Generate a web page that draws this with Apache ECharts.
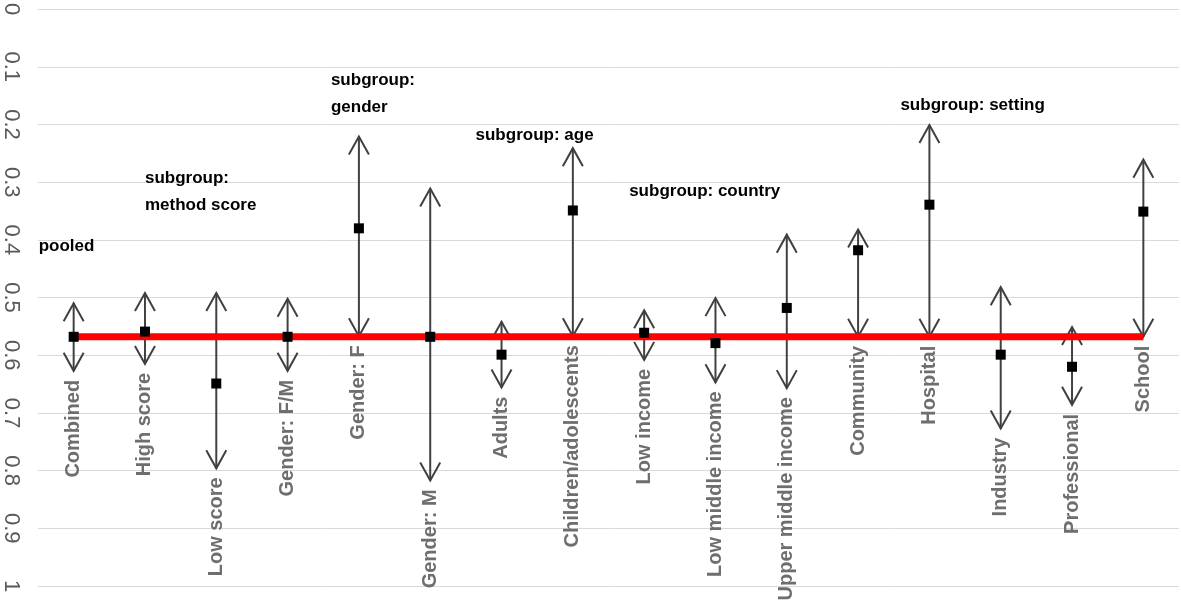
<!DOCTYPE html>
<html>
<head>
<meta charset="utf-8">
<script src="https://cdn.jsdelivr.net/npm/echarts@6/dist/echarts.min.js"></script>
<style>html,body{margin:0;padding:0;background:#fff}#c{width:1181px;height:609px}</style>
</head>
<body>
<div id="c"></div>
<script>
// ---- data ----
const categories = ['Combined','High score','Low score','Gender: F/M','Gender: F','Gender: M','Adults','Children/adolescents','Low income','Low middle income','Upper middle income','Community','Hospital','Industry','Professional','School'];
const estimates = [0.568,0.559,0.649,0.568,0.380,0.568,0.599,0.349,0.561,0.579,0.518,0.418,0.339,0.599,0.620,0.351];
const ciTop =     [0.510,0.492,0.492,0.502,0.221,0.311,0.542,0.241,0.522,0.501,0.391,0.382,0.201,0.482,0.551,0.261];
const ciBottom =  [0.627,0.615,0.796,0.627,0.567,0.817,0.656,0.567,0.608,0.647,0.657,0.568,0.568,0.727,0.686,0.568];
const pooled = 0.568;
const yTickLabels = ['0','0.1','0.2','0.3','0.4','0.5','0.6','0.7','0.8','0.9','1'];
const annoTexts = ['pooled','subgroup:\nmethod score','subgroup:\ngender','subgroup: age','subgroup: country','subgroup: setting'];
const annoCats = [0,1,4,6,8,12];
const annoValues = [0.411,0.316,0.147,0.218,0.316,0.166];

// ---- styles ----
const annoOffsetX = [-35,0,-28,-26,-15,-29];
const barColor = '#404040';

const chart = echarts.init(document.getElementById('c'), null, {renderer:'canvas'});
chart.setOption({
  animation: false,
  grid: {left: 38, right: 2, top: 7, bottom: 23, containLabel: false},
  xAxis: {
    type: 'category', data: categories, boundaryGap: true,
    axisLine: {show: false}, axisTick: {show: false}, axisLabel: {show: false}, splitLine: {show: false}
  },
  yAxis: {
    type: 'value', inverse: true, min: 0, max: 1, interval: 0.1,
    axisLine: {show: false}, axisTick: {show: false},
    splitLine: {lineStyle: {color: '#d9d9d9', width: 1}},
    axisLabel: {
      rotate: -90, margin: 16, color: '#595959', fontSize: 22, fontFamily: 'Liberation Sans',
      formatter: function (v) { return yTickLabels[Math.round(v * 10)]; }
    }
  },
  series: [
    {
      type: 'custom', z: 2,
      data: categories.map(function (c, i) { return [i, ciTop[i], ciBottom[i]]; }),
      renderItem: function (params, api) {
        const x = api.value(0);
        const t = api.coord([x, api.value(1)]);
        const b = api.coord([x, api.value(2)]);
        const ah = 18, aw = 10;
        const st = {stroke: barColor, lineWidth: 2, fill: null};
        return {type: 'group', children: [
          {type: 'line', shape: {x1: t[0], y1: t[1], x2: b[0], y2: b[1]}, style: st},
          {type: 'polyline', shape: {points: [[t[0]-aw, t[1]+ah],[t[0], t[1]],[t[0]+aw, t[1]+ah]]}, style: st},
          {type: 'polyline', shape: {points: [[b[0]-aw, b[1]-ah],[b[0], b[1]],[b[0]+aw, b[1]-ah]]}, style: st},
          {type: 'text', x: b[0], y: b[1] + 9, rotation: Math.PI / 2,
           style: {text: categories[params.dataIndex], align: 'right', verticalAlign: 'middle',
                   fontSize: 20, fontWeight: 'bold', fontFamily: 'Liberation Sans', fill: '#6e6e6e'}}
        ]};
      }
    },
    {
      type: 'line', z: 3, data: categories.map(function () { return pooled; }),
      symbol: 'none', lineStyle: {color: '#ff0000', width: 7}, silent: true
    },
    {
      type: 'scatter', z: 4, data: estimates, symbol: 'rect', symbolSize: 10,
      itemStyle: {color: '#000000', opacity: 1}
    },
    {
      type: 'custom', z: 5,
      data: annoTexts.map(function (t, i) { return [annoCats[i], annoValues[i]]; }),
      renderItem: function (params, api) {
        const p = api.coord([api.value(0), api.value(1)]);
        return {type: 'text', x: p[0] + annoOffsetX[params.dataIndex], y: p[1],
          style: {text: annoTexts[params.dataIndex], align: 'left', verticalAlign: 'middle',
                  fontSize: 17, fontWeight: 'bold', fontFamily: 'Liberation Sans', fill: '#000', lineHeight: 27}};
      }
    }
  ]
});
</script>
</body>
</html>
